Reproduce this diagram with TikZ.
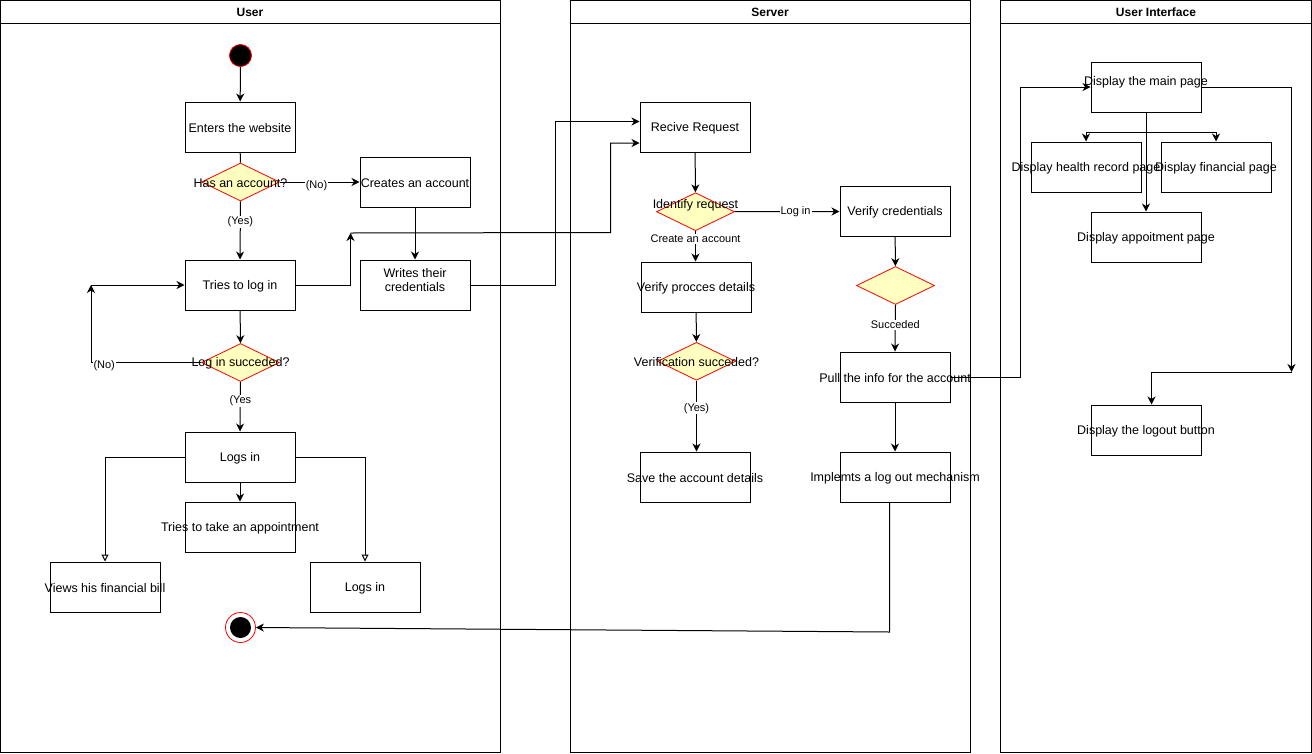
\documentclass[tikz,border=0pt]{standalone}
\usepackage{fontspec}
\setmainfont{Liberation Sans}
\usetikzlibrary{shapes.geometric,arrows.meta}
\definecolor{dyellow}{HTML}{FFFFC0}
\definecolor{dred}{HTML}{FF0000}
\begin{document}
\begin{tikzpicture}[x=1pt,y=-1pt,
  every node/.style={font=\fontsize{12.5}{14.5}\selectfont},
  every label/.append style={yshift=-0.8pt},
  lane/.style={draw, line width=1pt, inner sep=0pt, outer sep=0pt, anchor=north west},
  lanetitle/.style={font=\bfseries\fontsize{12}{14}\selectfont},
  box/.style={draw, line width=1pt, minimum width=110pt, minimum height=50pt, inner sep=0pt, fill=white},
  dec/.style={diamond, draw=dred, fill=dyellow, line width=0.8pt, minimum width=78pt, minimum height=38pt, inner sep=0pt},
  flow/.style={draw, line width=1pt, -{Stealth[length=8pt,width=8pt,inset=2.5pt]}},
  sketchflow/.style={draw, line width=1pt, -{Triangle[open,length=7pt,width=7pt]}},
  plain/.style={draw, line width=1pt},
  elabel/.style={font=\fontsize{11}{13}\selectfont, fill=white, inner sep=1pt}
]
\useasboundingbox (0,0) rectangle (1312,753);
\fill[white] (0,0) rectangle (1312,753);

% lanes
\node[lane, minimum width=500pt, minimum height=752pt] (laneU) at (0.5,0.5) {};
\node[lane, minimum width=400pt, minimum height=752pt] (laneS) at (570.5,0.5) {};
\node[lane, minimum width=311pt, minimum height=752pt] (laneI) at (1000.5,0.5) {};
\draw[plain] (0.5,23.5) -- (500.5,23.5);
\draw[plain] (570.5,23.5) -- (970.5,23.5);
\draw[plain] (1000.5,23.5) -- (1311.5,23.5);
\node[lanetitle] (tU) at (250,12.5) {User};
\node[lanetitle] (tS) at (770,12.5) {Server};
\node[lanetitle] (tI) at (1156,12.5) {User Interface};

% User lane
\node[circle, fill=black, draw=dred, line width=0.8pt, minimum size=22pt, inner sep=0pt] (start) at (240.5,55.5) {};
\node[box, label={center:Enters the website}] (enter) at (240,127) {};
\node[dec, label={center:Has an account?}] (hasacc) at (240.5,182) {};
\node[box, label={center:Creates an account}] (create) at (415,182) {};
\node[box, label={center:Tries to log in}] (trylog) at (240,285) {};
\node[box, label={[align=center,yshift=6pt]center:Writes their\\credentials}] (writes) at (415,285) {};
\node[dec, label={center:Log in succeded?}] (logsucc) at (240.5,362.5) {};
\node[box, label={center:Logs in}] (logs) at (240,457) {};
\node[box, label={center:Tries to take an appointment}] (appt2) at (240,527) {};
\node[box, label={center:Views his financial bill}] (views) at (105,587) {};
\node[box, label={center:Logs in}] (logs2) at (365,587) {};
\node[circle, draw=dred, fill=white, line width=0.8pt, minimum size=30pt, inner sep=0pt] (end) at (240.5,627.5) {};
\node[circle, fill=black, minimum size=21pt, inner sep=0pt] (endin) at (end) {};

% Server lane
\node[box, label={center:Recive Request}] (recv) at (695,127) {};
\node[dec, label={[yshift=7pt]center:Identify request}] (ident) at (695.5,211.7) {};
\node[box, label={center:Verify credentials}] (vcred) at (895,211.5) {};
\node[box, label={center:Verify procces details}] (vproc) at (696,287) {};
\node[dec] (d2) at (895.5,285.5) {};
\node[dec, label={center:Verification succeded?}] (vsucc) at (696.5,361.3) {};
\node[box, label={center:Pull the info for the account}] (pull) at (895,377) {};
\node[box, label={center:Save the account details}] (save) at (695,477) {};
\node[box, label={center:Implemts a log out mechanism}] (impl) at (895,477) {};

% UI lane
\node[box, label={[yshift=6pt]center:Display the main page}] (main) at (1146,87) {};
\node[box, label={center:Display health record page}] (health) at (1086,167) {};
\node[box, label={center:Display financial page}] (fin) at (1216,167) {};
\node[box, label={center:Display appoitment page}] (appt) at (1146,237) {};
\node[box, label={center:Display the logout button}] (logout) at (1146,430) {};

% coordinates
\coordinate (c1) at (350.5,233);
\coordinate (c3) at (91,285);
\coordinate (split) at (1146,132);
\coordinate (c2) at (1291.5,372);

% User edges
\draw[flow] (start) -- (enter);
\draw[plain] (enter) -- (hasacc);
\draw[flow] (hasacc.east) -- node[elabel, pos=0.46, yshift=-3.5pt] {(No)} (create.west);
\draw[flow] (hasacc.south) -- node[elabel, pos=0.35] {(Yes)} (trylog.north);
\draw[flow] (create) -- (writes);
\draw[flow] (trylog.east) -- (350.5,285) -- (c1);
\draw[flow] (c1) -- (610.5,232.5) -- (610.5,143) -- (recv.west |- 0,143);
\draw[flow] (writes.east) -- (555.5,285) -- (555.5,121.5) -- (recv.west |- 0,121.5);
\draw[flow] (trylog) -- (logsucc);
\draw[flow] (logsucc.west) -- node[elabel, pos=0.88, yshift=-3.5pt] {(No)} (91,362.5) -- (c3);
\draw[flow] (c3) -- (trylog.west);
\draw[flow] (logsucc.south) -- node[elabel, pos=0.38] {(Yes} (logs.north);
\draw[flow] (logs) -- (appt2);
\draw[sketchflow] (logs.west) -| (views.north);
\draw[sketchflow] (logs.east) -| (logs2.north);

% Server edges
\draw[flow] (recv) -- (ident);
\draw[flow] (ident.east) -- node[elabel, pos=0.58] {Log in} (vcred.west);
\draw[flow] (ident.south) -- node[elabel, pos=0.26] {Create an account} (vproc.north -| ident.south);
\draw[flow] (vproc) -- (vsucc);
\draw[flow] (vsucc.south) -- node[elabel, pos=0.39] {(Yes)} (save.north -| vsucc.south);
\draw[flow] (vcred) -- (d2);
\draw[flow] (d2.south) -- node[elabel, pos=0.43] {Succeded} (pull.north);
\draw[flow] (pull) -- (impl);
\draw[flow] (pull.east) -- (1020.5,377) -- (1020.5,87) -- (main.west);
\draw[flow] (impl.south -| 889.5,0) -- (889.5,632) -- (end.east);

% UI edges
\draw[plain] (main.south) -- (split);
\draw[flow] (split) -| (health.north);
\draw[flow] (split) -| (fin.north);
\draw[flow] (main.south) -- (appt.north);
\draw[flow] (main.east) -- (1291.5,87) -- (c2);
\draw[flow] (c2) -- (1151.5,372) -- (logout.north -| 1151.5,0);
\end{tikzpicture}
\end{document}
